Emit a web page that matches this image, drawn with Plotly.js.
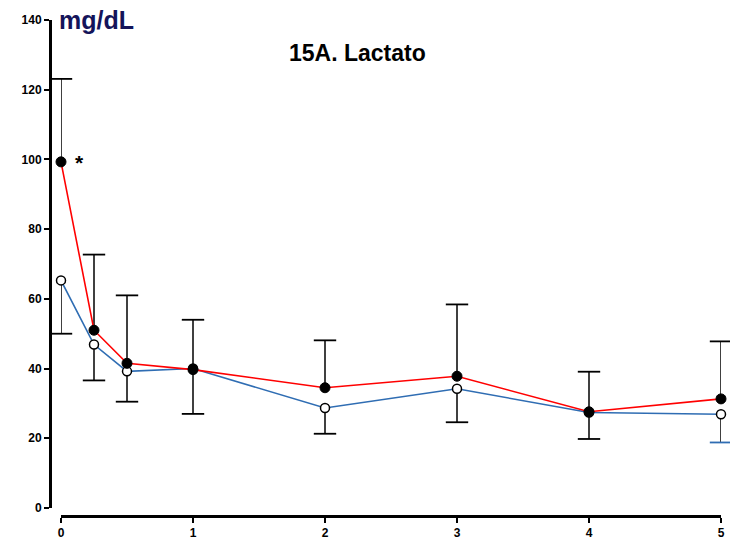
<!DOCTYPE html>
<html>
<head>
<meta charset="utf-8">
<script src="https://cdn.plot.ly/plotly-3.0.1.min.js"></script>
<style>html,body{margin:0;padding:0;background:#fff;}#chart{width:730px;height:545px;}</style>
</head>
<body>
<div id="chart"></div>
<script>
// Data (hours vs lactate mg/dL)
const times = [0, 0.25, 0.5, 1, 2, 3, 4, 5];
const redMean = [99.3, 51.0, 41.5, 39.7, 34.5, 37.8, 27.6, 31.3];
const redSDup = [23.8, 21.7, 19.5, 14.3, 13.6, 20.6, 11.5, 16.5];
const blueMean = [65.3, 46.9, 39.2, 40.0, 28.7, 34.2, 27.4, 26.9];
const blueSDdown = [15.3, 10.3, 8.7, 13.0, 7.4, 9.6, 7.6, 8.1];
const yTicks = [0, 20, 40, 60, 80, 100, 120, 140];
const xTicks = [0, 1, 2, 3, 4, 5];

const zeros = times.map(() => 0);
const redTop = redMean.map((v, i) => v + redSDup[i]);
const blueBottom = blueMean.map((v, i) => v - blueSDdown[i]);

const BLUE = '#2f6db3';
const RED = '#ff0000';
const blueCapColors = ['#000','#000','#000','#000','#000','#000','#000',BLUE];

const traces = [
  { // blue stems
    x: times, y: blueMean, mode: 'lines', line: {width: 0, color: 'rgba(0,0,0,0)'},
    error_y: {type: 'data', symmetric: false, array: zeros, arrayminus: blueSDdown, width: 0, thickness: 1.5, color: '#000'},
    hoverinfo: 'skip', showlegend: false, cliponaxis: false
  },
  { // red stems
    x: times, y: redMean, mode: 'lines', line: {width: 0, color: 'rgba(0,0,0,0)'},
    error_y: {type: 'data', symmetric: false, array: redSDup, arrayminus: zeros, width: 0, thickness: 1.5, color: '#000'},
    hoverinfo: 'skip', showlegend: false, cliponaxis: false
  },
  { // blue caps
    x: times, y: blueBottom, mode: 'markers',
    marker: {symbol: 'line-ew-open', size: 16, color: blueCapColors, line: {width: 1.8, color: blueCapColors}},
    hoverinfo: 'skip', showlegend: false, cliponaxis: false
  },
  { // red caps
    x: times, y: redTop, mode: 'markers',
    marker: {symbol: 'line-ew-open', size: 16, color: '#000', line: {width: 1.8, color: '#000'}},
    hoverinfo: 'skip', showlegend: false, cliponaxis: false
  },
  { // blue series
    x: times, y: blueMean, mode: 'lines+markers',
    line: {color: BLUE, width: 1.6},
    marker: {symbol: 'circle', size: 9, color: '#fff', line: {color: '#000', width: 1.5}},
    showlegend: false, cliponaxis: false
  },
  { // red series
    x: times, y: redMean, mode: 'lines+markers',
    line: {color: RED, width: 1.6},
    marker: {symbol: 'circle', size: 10, color: '#000', line: {color: '#000', width: 1}},
    showlegend: false, cliponaxis: false
  }
];

const tickFont = {family: 'Arial, "Liberation Sans", sans-serif', size: 12, color: '#000', weight: 'bold'};
const L = 50, R = 8, T = 20, B = 29;
const plotW = 730 - L - R, plotH = 545 - T - B;

const layout = {
  width: 730, height: 545,
  margin: {l: L, r: R, t: T, b: B, pad: 0},
  paper_bgcolor: '#fff', plot_bgcolor: '#fff',
  showlegend: false,
  xaxis: {
    range: [0, 5], domain: [11 / plotW, 671 / plotW],
    anchor: 'free', position: 0,
    tickvals: xTicks, ticktext: xTicks.map(String),
    ticks: 'outside', ticklen: 5, tickwidth: 2, tickcolor: '#000',
    showline: true, linewidth: 2.5, linecolor: '#000',
    showgrid: false, zeroline: false, tickfont: tickFont
  },
  yaxis: {
    range: [0, 140], domain: [8 / plotH, 1],
    anchor: 'free', position: 0,
    tickvals: yTicks, ticktext: yTicks.map(String),
    ticks: 'outside', ticklen: 5, tickwidth: 2, tickcolor: '#000',
    showline: true, linewidth: 2.5, linecolor: '#000',
    showgrid: false, zeroline: false, tickfont: tickFont
  },
  annotations: [
    {text: '<b>mg/dL</b>', xref: 'paper', yref: 'paper', x: 7 / plotW, y: 1 - 0 / plotH,
     xanchor: 'left', yanchor: 'middle', showarrow: false,
     font: {family: 'Arial, "Liberation Sans", sans-serif', size: 25, color: '#14145a'}},
    {text: '<b>15A. Lactato</b>', xref: 'paper', yref: 'paper', x: 307 / plotW, y: 1 - 33 / plotH,
     xanchor: 'center', yanchor: 'middle', showarrow: false,
     font: {family: 'Arial, "Liberation Sans", sans-serif', size: 23, color: '#000'}},
    {text: '<b>*</b>', xref: 'x', yref: 'y', x: 0.137, y: 99,
     xanchor: 'center', yanchor: 'middle', showarrow: false,
     font: {family: 'Arial, "Liberation Sans", sans-serif', size: 21, color: '#000'}}
  ]
};

Plotly.newPlot('chart', traces, layout, {displayModeBar: false, staticPlot: true});
</script>
</body>
</html>
